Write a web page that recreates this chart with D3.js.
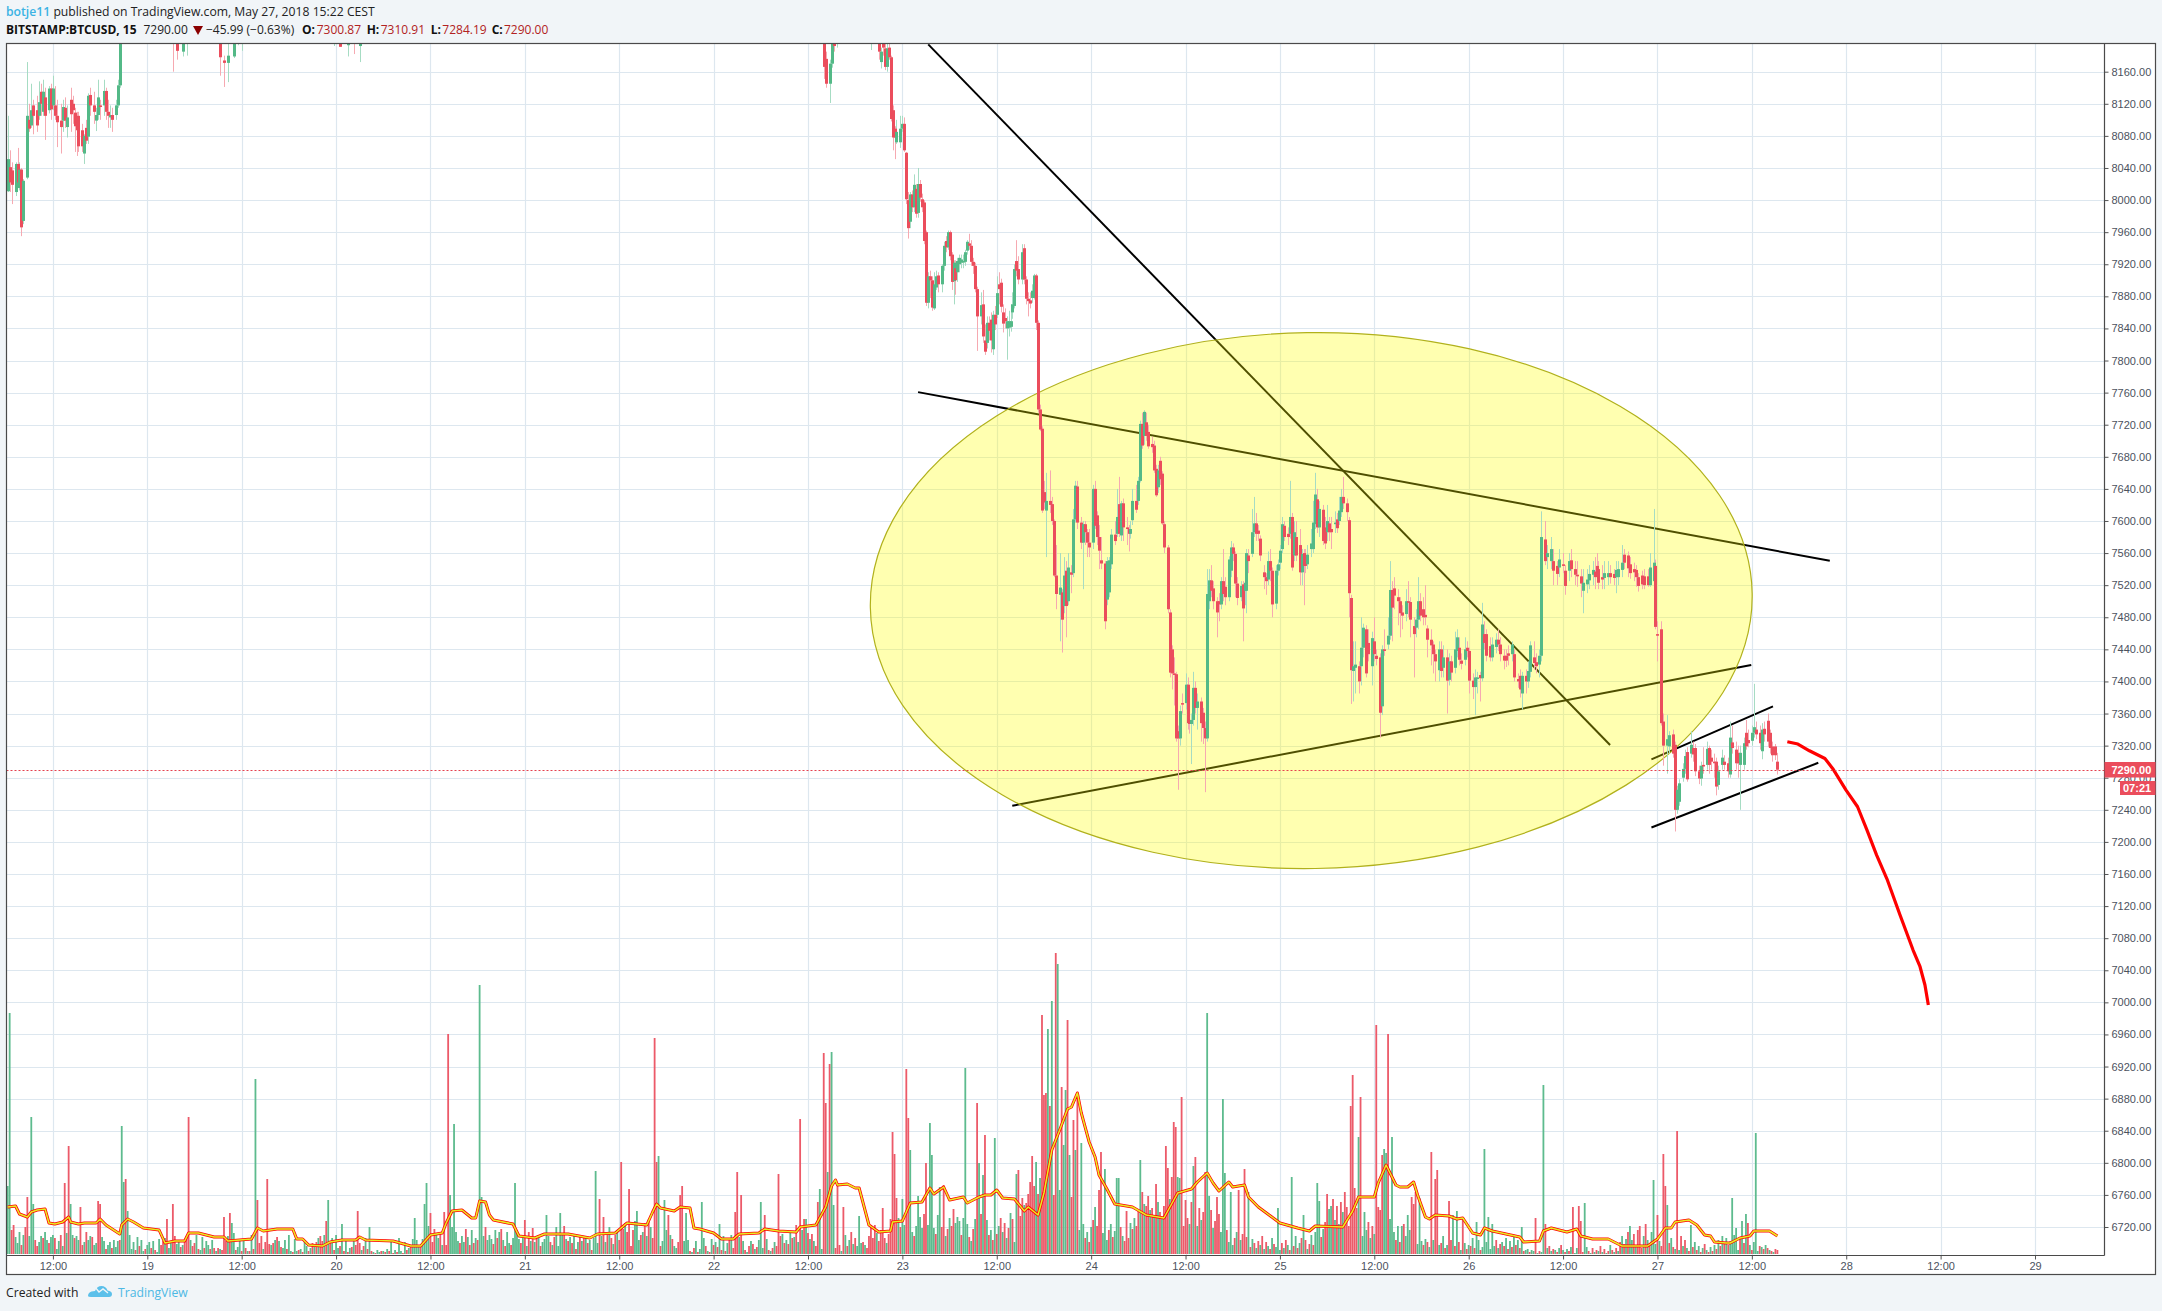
<!DOCTYPE html>
<html><head><meta charset="utf-8"><script src="https://cdn.jsdelivr.net/npm/d3@7"></script>
<style>html,body{margin:0;padding:0;background:#f1f5f8}svg{display:block}</style></head><body><div id="chart"></div>
<script>
// Price candles: rows are [open, close, high, low]; each section covers a range of 15-minute bars
const candlesA=[[8011,8051,8105,8010],[8041,8022,8062,8010],[8037,8019,8047,7995],[8010,8045,8047,8005],[8045,8022,8065,8015],[8015,8038,8047,8012],[8038,7966,8040,7955],[7974,8024,8026,7970],[8028,8105,8172,8026],[8100,8089,8120,8085],[8093,8112,8145,8090],[8118,8105,8125,8082],[8112,8093,8130,8085],[8105,8122,8148,8100],[8135,8120,8145,8105],[8110,8135,8150,8105],[8128,8105,8140,8075],[8112,8139,8142,8108],[8139,8113,8145,8100],[8118,8139,8155,8112],[8118,8105,8142,8100],[8105,8097,8125,8066],[8099,8091,8120,8058],[8099,8116,8125,8085],[8115,8099,8128,8090],[8091,8103,8118,8078],[8125,8107,8140,8085],[8120,8112,8130,8095],[8109,8092,8115,8060],[8097,8087,8110,8055],[8105,8067,8110,8060],[8087,8067,8095,8060],[8058,8080,8082,8045],[8090,8074,8100,8070],[8079,8130,8133,8070],[8131,8118,8140,8105],[8118,8110,8135,8095],[8099,8106,8115,8086],[8106,8128,8150,8100],[8118,8116,8125,8100],[8118,8136,8150,8105],[8136,8110,8140,8100],[8110,8105,8125,8090],[8103,8106,8118,8090],[8106,8100,8115,8085],[8106,8118,8125,8100],[8118,8143,8150,8115],[8143,8200,8215,8140]];
const candlesPeek1=[[8210,8205,8215,8160],[8210,8186,8215,8175],[8185,8210,8220,8179],[8200,8210,8215,8180]];
const candlesPeek2=[[8205,8178,8210,8155],[8174,8171,8180,8141],[8171,8180,8200,8147],[8179,8195,8200,8177],[8197,8200,8210,8193],[8200,8210,8215,8186]];
const candlesPeek3=[[8200,8210,8215,8192],[8200,8191,8205,8191],[8193,8198,8215,8179],[8200,8196,8210,8182],[8192,8197,8200,8172]];
const candlesM1=[[8210,8166,8215,8151],[8176,8145,8185,8140],[8145,8170,8175,8121],[8170,8195,8200,8165],[8195,8192,8205,8185]];
const candlesPeek4=[[8200,8205,8210,8190]];
const candlesPeek5=[[8195,8205,8210,8187]];
const candlesM2=[[8195,8185,8205,8175],[8172,8185,8190,8164],[8195,8190,8200,8180],[8189,8166,8200,8162],[8166,8189,8200,8160],[8190,8178,8200,8175],[8178,8101,8180,8098],[8112,8078,8118,8062],[8089,8078,8092,8051],[8072,8085,8100,8070],[8072,8089,8105,8065],[8089,8095,8105,8085],[8095,8062,8103,8060],[8059,8001,8060,7995],[8000,7965,8010,7952],[7973,8007,8010,7965],[8007,7991,8012,7985],[7991,8019,8032,7985],[8014,7983,8020,7978],[7984,8020,8040,7978],[8020,8003,8025,7998],[8001,7991,8008,7985],[7997,7949,8000,7945],[7960,7872,7962,7868],[7872,7905,7910,7865],[7905,7900,7912,7878],[7900,7866,7905,7862],[7865,7895,7910,7863],[7891,7905,7912,7888],[7906,7895,7910,7885],[7895,7918,7920,7885],[7918,7943,7948,7912],[7949,7941,7955,7935],[7941,7960,7962,7938],[7960,7930,7962,7925],[7932,7898,7935,7888],[7899,7922,7925,7870],[7915,7900,7925,7882],[7910,7924,7928,7898],[7920,7928,7932,7910],[7922,7926,7932,7915],[7923,7924,7932,7915],[7923,7935,7938,7918],[7937,7948,7950,7932],[7946,7943,7958,7938],[7943,7923,7950,7918],[7923,7918,7928,7908],[7918,7889,7922,7885],[7889,7855,7892,7812],[7855,7869,7885,7845],[7870,7830,7888,7822],[7825,7811,7845,7807],[7822,7847,7855,7815],[7847,7837,7855,7825],[7851,7825,7860,7810],[7814,7857,7862,7807],[7857,7845,7868,7838],[7857,7884,7905,7853],[7895,7889,7910,7870],[7897,7867,7902,7860],[7860,7846,7870,7835],[7853,7849,7865,7840],[7840,7849,7855,7801],[7841,7849,7862,7830],[7842,7849,7870,7836],[7860,7870,7885,7852],[7868,7914,7920,7865],[7924,7912,7950,7905],[7914,7901,7930,7895],[7901,7935,7945,7895],[7940,7901,7945,7895],[7901,7877,7905,7870],[7877,7874,7885,7855],[7875,7871,7885,7865],[7878,7887,7895,7872],[7878,7906,7908,7876],[7906,7847,7908,7838],[7847,7739,7850,7735],[7739,7714,7745,7712]];
const candlesS1=[[7715,7613,7718,7610],[7636,7623,7650,7615],[7613,7625,7660,7555],[7625,7620,7663,7610],[7621,7600,7630,7595],[7600,7532,7602,7530],[7532,7509,7570,7490],[7508,7517,7560,7450],[7511,7477,7515,7436],[7494,7532,7555,7485],[7538,7494,7550,7455],[7500,7542,7560,7495],[7536,7533,7545,7510],[7535,7602,7615,7530],[7602,7644,7650,7598],[7643,7598,7650,7590],[7598,7573,7605,7565],[7573,7596,7600,7515],[7596,7586,7600,7570],[7586,7573,7590,7555],[7573,7567,7590,7555],[7573,7640,7645,7565],[7640,7594,7650,7590],[7607,7580,7612,7570],[7580,7563,7595,7540],[7551,7547,7580,7540],[7547,7475,7550,7465],[7502,7550,7555,7495],[7511,7551,7555,7505],[7546,7583,7590,7540],[7583,7575,7600,7570],[7584,7605,7640,7580],[7621,7584,7655,7580],[7582,7622,7625,7575],[7622,7592,7628,7575],[7592,7590,7605,7570],[7590,7584,7595,7562],[7584,7590,7600,7578],[7601,7625,7640,7595],[7625,7614,7645,7610],[7625,7650,7655,7620],[7650,7721,7725,7648]];
const candlesS2=[[7721,7694,7735,7690],[7706,7736,7738,7695],[7723,7706,7735,7700],[7711,7693,7720,7690],[7696,7692,7705,7685],[7694,7663,7700,7660],[7665,7632,7670,7630],[7642,7663,7670,7635],[7675,7652,7680,7645],[7659,7597,7662,7595],[7596,7567,7600,7560],[7567,7490,7570,7485],[7486,7411,7490,7405],[7440,7410,7445,7390],[7410,7408,7430,7370],[7409,7329,7412,7325],[7338,7329,7345,7265],[7329,7363,7370,7320],[7373,7372,7385,7360],[7373,7396,7410,7365],[7396,7348,7405,7340],[7352,7347,7365,7335],[7347,7352,7360,7297],[7352,7392,7412,7345],[7392,7367,7400,7360],[7367,7375,7385,7340],[7375,7348,7380,7325],[7361,7342,7367,7322],[7342,7329,7350,7262],[7329,7509,7540,7325]];
const candlesS3=[[7500,7526,7540,7490],[7526,7513,7545,7505],[7516,7500,7525,7490],[7500,7486,7505,7455],[7500,7496,7510,7475],[7496,7525,7530,7490],[7525,7509,7565,7500],[7518,7505,7530,7495],[7505,7552,7556,7500],[7538,7567,7575,7530],[7567,7559,7572,7550],[7559,7522,7562,7505],[7522,7504,7530,7495],[7505,7519,7525,7500],[7521,7491,7525,7450],[7513,7523,7535,7495],[7513,7560,7565,7485],[7557,7550,7565,7535],[7559,7586,7615,7555],[7586,7597,7630,7580],[7597,7584,7610,7575],[7588,7584,7595,7575],[7578,7557,7582,7550],[7536,7530,7545,7515],[7530,7525,7535,7508],[7527,7550,7562,7520],[7550,7538,7565,7525],[7538,7496,7542,7480],[7497,7538,7545,7490],[7538,7546,7552,7532],[7548,7563,7570,7540],[7565,7596,7605,7560],[7594,7580,7600,7575],[7584,7580,7592,7570],[7584,7605,7650,7578],[7605,7542,7610,7538],[7557,7586,7600,7550],[7580,7557,7600,7550],[7570,7536,7590,7520],[7536,7559,7565,7520],[7560,7544,7565,7495],[7555,7544,7565,7535],[7546,7558,7570,7540],[7565,7572,7590,7555],[7565,7598,7625,7560],[7596,7633,7660,7590],[7627,7592,7640,7585],[7592,7615,7625,7580],[7614,7575,7620,7570],[7592,7572,7605,7565],[7586,7600,7620,7575],[7597,7586,7605,7575],[7590,7586,7605,7565],[7596,7598,7612,7585],[7602,7591,7610,7585],[7600,7613,7630,7595],[7611,7630,7640,7605],[7630,7622,7655,7615],[7622,7611,7628,7600],[7601,7510,7605,7480],[7504,7414,7508,7372]];
const candlesS4=[[7413,7419,7450,7375],[7417,7421,7450,7385],[7419,7400,7425,7385],[7419,7442,7480,7395],[7442,7467,7472,7430],[7465,7410,7470,7405],[7448,7434,7465,7425],[7419,7454,7462,7395],[7450,7434,7480,7425],[7432,7428,7440,7420],[7430,7361,7435,7330],[7369,7440,7445,7358],[7440,7438,7465,7432],[7446,7457,7480,7440],[7457,7514,7550,7452]];
const candlesS5=[[7514,7492,7525,7450],[7516,7507,7530,7490],[7505,7500,7515,7470],[7500,7485,7505,7455],[7486,7482,7495,7465],[7484,7500,7515,7475],[7500,7498,7525,7480],[7499,7477,7505,7455],[7469,7459,7480,7405],[7467,7477,7490,7455],[7477,7500,7530,7465],[7500,7482,7510,7475],[7490,7480,7505,7470],[7483,7480,7520,7470],[7466,7452,7470,7430],[7452,7445,7465,7420],[7446,7434,7450,7410],[7434,7425,7440,7400],[7414,7440,7450,7400],[7440,7413,7450,7405],[7417,7430,7445,7405],[7430,7401,7440,7360],[7402,7425,7435,7395],[7425,7411,7432,7400],[7417,7440,7462,7410],[7438,7455,7465,7430],[7442,7427,7455,7420],[7426,7422,7435,7415],[7427,7440,7455,7420],[7442,7438,7450,7430],[7438,7401,7442,7385],[7401,7393,7410,7378],[7393,7405,7415,7358],[7403,7405,7412,7385],[7408,7404,7412,7375],[7404,7471,7498,7400]];
const candlesS6=[[7459,7448,7475,7440],[7459,7432,7465,7425],[7444,7430,7455,7425],[7430,7446,7455,7425],[7443,7452,7460,7435],[7452,7446,7465,7438],[7446,7434,7455,7425],[7432,7426,7440,7415],[7432,7426,7440,7418],[7435,7432,7445,7420],[7434,7446,7450,7425],[7434,7405,7440,7400],[7403,7400,7410,7392],[7407,7390,7415,7380],[7385,7407,7412,7365],[7407,7400,7415,7385],[7400,7413,7425,7392],[7412,7445,7450,7405],[7430,7423,7450,7415],[7424,7419,7435,7410],[7421,7432,7440,7405],[7432,7580,7612,7425]];
const candlesS7=[[7577,7550,7600,7545],[7555,7560,7570,7540],[7550,7565,7580,7540],[7550,7538,7565,7520],[7544,7534,7550,7520],[7542,7552,7565,7530],[7546,7544,7560,7535],[7538,7519,7545,7508],[7538,7550,7560,7525],[7551,7540,7565,7530],[7540,7533,7550,7520],[7533,7531,7550,7518],[7531,7522,7540,7505],[7513,7523,7540,7485],[7521,7527,7540,7510],[7526,7534,7545,7515],[7533,7539,7550,7520],[7537,7530,7555,7515]];
const candlesS8=[[7544,7536,7560,7525],[7540,7523,7550,7515],[7530,7527,7545,7515],[7529,7535,7550,7515],[7530,7535,7550,7520],[7535,7530,7545,7522],[7534,7529,7540,7520],[7530,7539,7550,7510],[7530,7540,7550,7520],[7539,7548,7570,7530],[7558,7548,7565,7540],[7557,7541,7562,7530],[7546,7535,7555,7528],[7540,7536,7548,7525],[7539,7530,7545,7518],[7530,7519,7535,7512],[7532,7521,7538,7515],[7531,7520,7540,7515],[7531,7520,7540,7518],[7520,7542,7560,7518],[7525,7548,7615,7520],[7544,7468,7552,7465],[7459,7457,7475,7425],[7465,7348,7475,7345],[7350,7320,7360,7295],[7320,7328,7358,7285],[7319,7333,7338,7310],[7334,7310,7340,7305],[7321,7240,7325,7213]];
const candlesS9=[[7240,7265,7270,7235],[7250,7273,7278,7245],[7280,7291,7298,7275],[7291,7307,7315,7285],[7312,7278,7318,7275],[7310,7321,7338,7305],[7317,7309,7325,7300],[7317,7288,7322,7282],[7288,7279,7295,7272],[7279,7295,7300,7270],[7296,7294,7318,7285],[7296,7316,7325,7290],[7317,7296,7320,7285],[7305,7300,7315,7290],[7300,7298,7310,7280],[7300,7269,7305,7258],[7271,7288,7295,7265],[7296,7305,7315,7290],[7300,7296,7308,7290],[7298,7288,7305,7280],[7284,7330,7350,7280],[7324,7317,7345,7310],[7315,7298,7325,7290],[7311,7298,7320,7280],[7296,7311,7320,7240],[7296,7323,7330,7290],[7336,7319,7352,7315],[7327,7323,7340,7318],[7326,7336,7345,7320],[7336,7343,7397,7330],[7340,7334,7350,7328],[7336,7323,7345,7315],[7313,7340,7348,7303],[7341,7334,7350,7325],[7351,7325,7360,7318],[7336,7317,7340,7310],[7319,7308,7325,7300],[7319,7308,7322,7302],[7300,7290,7311,7284]];
const candleSections=[[0,57,candlesA],[84,91,candlesPeek1],[108,119,candlesPeek2],[166,179,candlesPeek3],[415,420,candlesM1],[422,422,candlesPeek4],[439,439,candlesPeek5],[443,525,candlesM2],[526,576,candlesS1],[577,610,candlesS2],[611,683,candlesS3],[684,703,candlesS4],[704,750,candlesS5],[751,780,candlesS6],[782,807,candlesS7],[808,848,candlesS8],[849,900,candlesS9]];

// Volume: one value per 15-minute bar; a negative sign marks a down bar
const volumeBase=[
-20,9,-24,-29,17,11,22,-9,19,-27,27,18,-28,25,-14,-8,12,18,-16,22,
14,-11,17,19,-16,5,13,-19,8,-23,21,-25,13,19,-16,18,14,-5,-9,12,
-22,14,18,-17,9,11,-15,-21,17,13,-5,9,12,-6,14,7,13,-14,9,-25,
18,-6,19,5,12,-4,17,-8,14,3,-5,9,12,-6,13,-4,2,15,-9,-13,
16,-8,6,11,-14,-18,10,12,-7,9,-12,-16,20,14,-8,-11,19,-5,4,17,
-6,13,9,-5,14,-6,3,-6,5,-4,19,-13,18,-6,-18,21,-4,7,15,-3,
14,-6,3,-3,19,-5,-6,9,-11,-18,5,-12,17,-10,9,-11,14,-17,13,-7,
6,14,-5,19,3,-2,15,3,-4,5,-2,14,8,-3,6,-11,7,-12,16,-18,
-13,19,-5,7,-11,16,-4,19,6,-8,4,-3,15,-2,6,-7,13,-9,15,-11,
4,-8,16,-5,11,-3,2,-1,4,2,-3,3,-2,5,-3,12,-1,4,-2,16,
3,-1,12,-4,6,-8,15,-11,14,7,-9,15,6,-14,28,18,-12,-25,19,16,
-20,9,14,-9,30,-15,27,-33,22,13,-11,18,12,-25,17,-9,24,-11,16,-14,
12,-8,18,-27,14,19,15,-10,24,-16,22,-25,14,-8,22,11,-9,16,-13,24,
15,-11,18,-5,8,-22,13,-26,12,-16,19,-8,12,15,-21,18,-12,9,-17,27,
8,-14,21,-28,15,-13,17,-11,19,-5,12,-19,13,-16,18,-11,14,-4,16,-8,
11,-9,18,-6,12,-21,27,-16,10,-19,24,-14,29,-25,31,-22,14,-8,-24,33,
-28,14,-19,22,-31,18,-35,27,-16,22,-19,26,-8,13,-18,24,-7,19,-15,8,
6,-12,9,-5,13,-8,14,-3,2,-6,13,-2,5,-4,16,-8,3,-2,15,-9,
12,-7,13,-4,18,-3,11,-15,19,-6,11,-5,17,-9,13,-4,2,-8,13,-10,
5,-7,14,-9,6,-11,15,-4,3,-6,12,-8,15,-18,20,-11,14,-10,22,-16,
17,-29,12,-19,24,-35,18,-21,15,-20,13,-8,16,-11,5,-14,19,-22,9,-13,
11,-6,14,-9,3,-13,19,-8,14,-22,10,-16,8,-5,11,-12,9,-6,-18,-27,
-16,-29,21,-13,-24,28,-16,11,-20,-35,19,-25,-30,36,-27,-42,29,-24,15,-35,
22,-18,28,-25,37,26,-40,32,29,-23,34,26,-20,39,31,-27,16,18,-25,36,
-28,-45,31,-24,33,-19,36,-22,30,-17,13,-25,35,-28,21,-40,30,-26,34,-19,
24,-14,11,-20,28,-36,22,-31,16,-26,41,-35,12,-30,22,-38,-56,49,-42,-60,
-72,85,-68,92,-60,76,-48,88,-66,80,-58,45,-72,52,-95,64,-70,44,-56,62,
-48,40,-28,35,-18,24,-38,30,-16,22,-12,27,-34,19,-28,15,-26,21,-33,14,
-24,30,-17,23,-12,20,-27,18,-13,22,-16,31,-25,36,-28,-45,-56,-62,50,-48,
-58,44,-66,38,-70,52,-42,36,-48,30,-34,55,-42,60,-38,50,-46,32,-28,44,
-36,30,-52,40,-38,28,-46,34,-42,24,-37,30,-44,26,-33,18,-40,22,-28,14,
-24,12,-18,9,-16,22,-10,14,-20,8,-17,12,-7,15,-11,6,-13,9,-18,5,
-12,8,-5,16,-10,7,-13,4,-11,6,-14,9,-4,12,-8,18,-6,11,-16,7,
-14,5,-10,19,-9,22,-13,8,-17,25,-32,-60,45,-38,-55,34,-48,30,-52,42,
-62,40,-28,50,-34,26,-46,30,-21,18,-38,24,-32,16,-28,20,-36,14,-44,22,
-30,18,-25,35,-16,22,-14,28,-12,20,-30,18,-11,24,-16,14,-26,10,-18,13,
-9,15,-12,7,-16,14,8,-6,9,-11,18,-6,9,12,-14,5,-8,10,-12,4,
-7,11,-5,9,-8,16,-6,10,14,-4,7,-3,12,-9,5,-13,8,-14,6,-10,
12,-8,16,-5,13,-7,18,-9,14,-6,11,-3,4,5,-2,4,3,-2,1,-3,
2,-5,1,6,-8,3,-5,4,-2,6,-9,4,-2,5,-3,7,-2,1,6,-3,
5,-2,4,7,-3,1,-6,2,-4,3,-8,2,-5,1,-3,9,-4,2,-6,3,
-12,18,-10,15,-22,28,14,-20,9,-24,12,-6,18,-30,14,-8,22,-16,10,-5,
13,-8,5,-9,3,-11,16,-7,5,-12,4,-18,8,-14,6,-3,10,-7,12,-4,
8,-2,6,-10,4,-2,7,-3,9,-5,14,-8,18,-11,16,-9,13,-6,19,-10,
4,-15,8,-11,5,-7,9,-4,12,-6,3,-8,7,-5,9,-6,4,-3,2,-5,
-4,3,-4,2,-5,-6,-3];
const spikeBars=[0,1,10,12,13,29,31,32,37,46,47,58,59,60,61,81,84,92,110,113,114,126,127,132,162,163,170,178,184,207,212,213,215,222,224,225,227,240,241,258,263,274,281,299,301,303,312,316,320,329,330,331,334,336,342,343,345,353,362,370,371,373,383,385,392,403,406,412,413,415,416,417,418,419,420,422,425,433,445,450,451,452,455,457,458,459,463,467,469,470,474,476,483,487,493,494,496,497,502,513,514,518,521,526,527,528,529,530,531,532,533,534,536,537,538,539,540,541,542,543,544,546,553,555,556,558,564,565,569,576,582,589,590,592,593,594,595,596,597,599,603,604,609,610,611,615,618,619,622,626,629,631,646,653,659,666,667,673,681,683,684,685,687,688,690,696,697,699,700,701,702,704,709,712,714,715,716,718,724,726,727,733,735,737,740,747,751,753,755,770,777,781,782,796,799,800,802,830,837,839,842,843,844,849,856,877,879,882,884,885,889];
const spikeVolumes=[68,241,-57,137,50,-71,-108,50,-47,-53,-50,128,72,-75,43,-35,-50,-137,-37,-41,31,175,-54,-75,-33,54,30,-43,27,36,50,71,-41,-42,-220,59,130,269,57,71,-34,39,41,83,-55,-37,-92,-65,43,-216,-92,98,54,-39,-59,-68,41,52,30,-42,-82,-59,52,-39,-80,-135,35,-52,65,-201,-151,82,-190,202,49,-71,-47,38,-46,-122,-100,-56,55,-185,-136,104,58,-91,131,99,67,-69,37,186,-151,91,79,-119,116,80,-84,-51,-98,-239,-159,-161,225,-148,253,-59,-301,290,-167,109,164,-234,99,-57,-134,104,-161,111,47,-64,-102,85,76,76,-43,94,-46,-108,-86,-77,-132,-127,77,76,-157,-54,88,-97,-82,241,58,-57,155,81,62,-64,-85,62,46,77,39,71,53,48,-47,-148,-179,-66,117,-157,42,-229,-47,-99,105,101,-220,117,28,39,-57,-50,-62,56,-102,-75,-84,-53,39,43,-36,32,105,37,30,27,-36,169,-30,-47,-48,-33,51,-28,74,-39,-100,-68,49,-123,29,56,26,33,40,-31,121];
// Volume moving average (bar number, value)
const maBars=[0,4,6,10,12,15,19,21,24,28,31,32,36,39,45,47,50,57,58,61,64,69,77,80,85,90,92,97,105,110,112,124,127,130,137,145,147,150,153,160,164,170,177,179,182,196,205,210,215,221,223,226,231,236,238,240,243,245,247,257,260,268,273,285,296,300,309,315,325,328,330,332,339,342,347,349,352,359,363,369,372,382,385,392,401,403,411,416,419,421,422,427,431,433,438,443,449,450,455,459,465,469,471,476,479,486,488,494,497,500,503,506,512,517,519,524,527,531,535,539,541,544,546,550,553,555,559,563,572,579,588,595,602,605,610,613,616,621,623,629,631,636,647,656,662,665,679,684,687,695,697,701,706,708,712,715,717,721,723,726,733,737,740,745,749,751,755,769,771,779,781,785,793,798,800,806,814,821,834,839,843,846,848,855,859,863,866,868,874,876,881,886,888,896,900];
const maValues=[47,48,40,37,42,44,45,31,30,32,37,32,30,31,31,35,29,20,29,35,32,26,24,11,13,13,21,21,17,17,13,15,26,23,25,25,15,15,9,8,12,14,14,17,14,13,8,8,19,21,31,43,44,36,36,53,52,39,34,30,18,16,20,20,16,20,21,31,29,42,50,46,43,47,46,26,25,21,15,15,20,21,25,23,22,27,29,47,68,74,69,70,66,66,29,22,23,32,33,51,52,66,60,67,54,57,51,57,59,59,64,56,55,43,47,39,61,104,124,145,147,161,141,112,97,79,65,50,47,39,36,61,65,72,81,71,63,72,67,69,57,47,31,26,23,28,27,43,57,57,71,89,69,67,67,72,59,37,35,39,38,35,36,21,19,26,23,17,12,13,23,26,22,25,18,15,15,8,8,15,26,26,32,34,29,19,18,12,11,11,16,18,23,23,18];
// Axes
const priceTicks=d3.range(6720,8161,40);
const timeTicks=[["2018-05-18T12:00Z","12:00"],["2018-05-19T00:00Z","19"],["2018-05-19T12:00Z","12:00"],["2018-05-20T00:00Z","20"],["2018-05-20T12:00Z","12:00"],["2018-05-21T00:00Z","21"],["2018-05-21T12:00Z","12:00"],["2018-05-22T00:00Z","22"],["2018-05-22T12:00Z","12:00"],["2018-05-23T00:00Z","23"],["2018-05-23T12:00Z","12:00"],["2018-05-24T00:00Z","24"],["2018-05-24T12:00Z","12:00"],["2018-05-25T00:00Z","25"],["2018-05-25T12:00Z","12:00"],["2018-05-26T00:00Z","26"],["2018-05-26T12:00Z","12:00"],["2018-05-27T00:00Z","27"],["2018-05-27T12:00Z","12:00"],["2018-05-28T00:00Z","28"],["2018-05-28T12:00Z","12:00"],["2018-05-29T00:00Z","29"]];
const lastPrice=7290;
// Drawings: endpoints as [days since 19 May, price]
const trendDown=[[4.137,8194],[7.749,7320.7]];
const trendUpperWedge=[[4.083,7760.6],[8.913,7550.4]];
const trendLowerWedge=[[4.582,7245],[8.497,7420.4]];
const channelTop=[[7.968,7302.9],[8.612,7369]];
const channelBottom=[[7.968,7218],[8.852,7298.6]];
const forecastPath=[[8.688,7324.8],[8.744,7322],[8.805,7313.6],[8.887,7304],[8.928,7291.6],[8.999,7264.6],[9.06,7243.8],[9.11,7214.8],[9.161,7183.6],[9.216,7153.7],[9.285,7108.8],[9.354,7065.2],[9.391,7044.4],[9.417,7021.6],[9.435,6996.7]];
const ellipseCenter=[6.166,7500.8], ellipseRadii=[2.336,334], ellipseTilt=-0.9;

const W=2162,H=1311, L=6.5,T=43.5,R=2104.5,B=1255.5,OR=2155.5,OB=1274.5;
const day0=Date.UTC(2018,4,19), DAY=864e5, bar0=Date.UTC(2018,4,18,6,15), BAR=9e5;
const x=d3.scaleUtc().domain([new Date(day0),new Date(Date.UTC(2018,4,29))]).range([147.3,2035]);
const y=d3.scaleLinear().domain([6720,8160]).range([1227,71.7]);
const vy=d3.scaleLinear().domain([0,301]).range([1254,953]);
const xBar=i=>x(new Date(bar0+i*BAR));
const xDay=d=>x(new Date(day0+d*DAY));
const lineD=d3.line().x(d=>xDay(d[0])).y(d=>y(d[1]));

const svg=d3.select("#chart").append("svg").attr("width",W).attr("height",H).style("font-family","'Liberation Sans',Arial,sans-serif");
svg.append("rect").attr("width",W).attr("height",H).attr("fill","#f1f5f8");
svg.append("rect").attr("x",L).attr("y",T).attr("width",OR-L).attr("height",OB-T).attr("fill","#fff");
svg.append("defs").append("clipPath").attr("id","pane").append("rect").attr("x",L).attr("y",T).attr("width",R-L).attr("height",B-T);
const pane=svg.append("g").attr("clip-path","url(#pane)");
const gridCol="#dde7ef";
pane.append("g").selectAll("line").data(priceTicks).join("line").attr("x1",L).attr("x2",R).attr("y1",d=>Math.round(y(d))+.5).attr("y2",d=>Math.round(y(d))+.5).attr("stroke",gridCol).attr("stroke-width",1.2);
pane.append("g").selectAll("line").data(timeTicks).join("line").attr("y1",T).attr("y2",B).attr("x1",d=>Math.round(x(new Date(d[0])))+.5).attr("x2",d=>Math.round(x(new Date(d[0])))+.5).attr("stroke",gridCol).attr("stroke-width",1.2);

// volume
const volume=volumeBase.slice(0,901);
spikeBars.forEach((b,i)=>{volume[b]=spikeVolumes[i];});
pane.append("g").selectAll("rect").data(volume).join("rect")
 .attr("x",(d,i)=>xBar(i)-.9).attr("width",1.8).attr("y",d=>vy(Math.abs(d))).attr("height",d=>vy(0)-vy(Math.abs(d)))
 .attr("fill",d=>d<0?"#ec5a69":"#5dbb8e");
const maLine=d3.line().x(d=>xBar(d[0])).y(d=>vy(d[1]));
const maPts=maBars.map((b,i)=>[b,maValues[i]]);
pane.append("path").attr("d",maLine(maPts)).attr("fill","none").attr("stroke","#ff0000").attr("stroke-width",3).attr("stroke-linejoin","round");
pane.append("path").attr("d",maLine(maPts)).attr("fill","none").attr("stroke","#e6ee22").attr("stroke-width",1.5).attr("stroke-linejoin","round");

// trend lines lie under the ellipse, candles over it
const blackLines=[trendDown,trendUpperWedge,trendLowerWedge,channelTop,channelBottom];
pane.append("g").selectAll("path").data(blackLines).join("path").attr("d",d=>lineD(d)).attr("fill","none").attr("stroke","#000").attr("stroke-width",2);
const cx=xDay(ellipseCenter[0]),cy=y(ellipseCenter[1]);
pane.append("ellipse").attr("cx",cx).attr("cy",cy).attr("rx",xDay(ellipseRadii[0])-xDay(0)).attr("ry",y(0)-y(ellipseRadii[1]))
 .attr("transform",`rotate(${ellipseTilt} ${cx} ${cy})`).attr("fill","rgba(255,255,0,.31)").attr("stroke","#b1b11c").attr("stroke-width",1.2);

// candles
const candles=[];
candleSections.forEach(([s,e,rows])=>rows.forEach((r,i)=>{
  const b=rows.length>1?Math.round(s+(e-s)*i/(rows.length-1)):s;
  candles.push({bar:b,o:r[0],c:r[1],h:r[2],l:r[3]});
}));
const up=d=>d.c>=d.o;
pane.append("g").selectAll("line").data(candles).join("line")
 .attr("x1",d=>Math.round(xBar(d.bar))+.5).attr("x2",d=>Math.round(xBar(d.bar))+.5)
 .attr("y1",d=>y(d.h)).attr("y2",d=>y(d.l)).attr("stroke",d=>up(d)?"#a6dcc3":"#f6a9b1");
pane.append("g").selectAll("rect").data(candles).join("rect")
 .attr("x",d=>Math.round(xBar(d.bar))-1).attr("width",3)
 .attr("y",d=>y(Math.max(d.o,d.c))).attr("height",d=>Math.max(1.5,Math.abs(y(d.o)-y(d.c))))
 .attr("fill",d=>up(d)?"#53b987":"#eb4d5c");

pane.append("path").attr("d",lineD(forecastPath)).attr("fill","none").attr("stroke","#ff0000").attr("stroke-width",3.2).attr("stroke-linejoin","round");
pane.append("line").attr("x1",L).attr("x2",R).attr("y1",Math.round(y(lastPrice))+.5).attr("y2",Math.round(y(lastPrice))+.5).attr("stroke","#e5414f").attr("stroke-dasharray","2 2");

// axes
const yAxis=d3.axisRight(y).tickValues(priceTicks).tickFormat(d=>d.toFixed(2)).tickSize(4).tickPadding(3);
const yg=svg.append("g").attr("transform",`translate(${R},0)`).call(yAxis);
yg.select(".domain").remove();
yg.selectAll(".tick line").attr("stroke","#555");
yg.selectAll("text").attr("fill","#4c525e").style("font-size","11px");
const xAxis=d3.axisBottom(x).tickValues(timeTicks.map(d=>new Date(d[0]))).tickFormat((d,i)=>timeTicks[i][1]).tickSize(4).tickPadding(3);
const xg=svg.append("g").attr("transform",`translate(0,${B})`).call(xAxis);
xg.select(".domain").remove();
xg.selectAll(".tick line").attr("stroke","#555");
xg.selectAll("text").attr("fill","#4c525e").style("font-size","11px");
// frame
const frame="#4a4a4a";
svg.append("rect").attr("x",L).attr("y",T).attr("width",OR-L).attr("height",OB-T).attr("fill","none").attr("stroke",frame).attr("stroke-width",1.2);
svg.append("line").attr("x1",L).attr("x2",R).attr("y1",B).attr("y2",B).attr("stroke",frame).attr("stroke-width",1.2);
svg.append("line").attr("x1",R).attr("x2",R).attr("y1",T).attr("y2",B).attr("stroke",frame).attr("stroke-width",1.2);
// last price labels
svg.append("rect").attr("x",R).attr("y",762).attr("width",OR-R).attr("height",15.5).attr("fill","#eb4d5c");
svg.append("text").attr("x",2111.5).attr("y",773.5).attr("fill","#fff").attr("font-weight","bold").attr("font-size",11).text(lastPrice.toFixed(2));
svg.append("rect").attr("x",2120).attr("y",781).attr("width",OR-2120).attr("height",14).attr("fill","#eb4d5c");
svg.append("text").attr("x",2123).attr("y",792).attr("fill","#fff").attr("font-weight","bold").attr("font-size",11).text("07:21");

// header
const hf="'Open Sans',sans-serif";
const t1=svg.append("text").attr("x",6).attr("y",16).attr("font-family",hf).attr("font-size",12.2).attr("fill","#222");
t1.append("tspan").attr("fill","#3bb3e4").attr("font-weight","600").text("botje11");
t1.append("tspan").text(" published on TradingView.com, May 27, 2018 15:22 CEST");
const hdr=(xp,txt,col,w)=>svg.append("text").attr("x",xp).attr("y",33.5).attr("font-family",hf).attr("font-size",12).attr("fill",col).attr("font-weight",w||400).text(txt);
hdr(6,"BITSTAMP:BTCUSD, 15","#111",700);
hdr(143.5,"7290.00","#222");
svg.append("path").attr("d",d3.line()([[193,26],[203,26],[198,35]])+"Z").attr("fill","#8b0000");
hdr(206,"\u221245.99 (\u22120.63%)","#222");
hdr(302,"O:","#111",700); hdr(316.7,"7300.87","#b22222");
hdr(366.7,"H:","#111",700); hdr(380.7,"7310.91","#b22222");
hdr(430.7,"L:","#111",700); hdr(442.3,"7284.19","#b22222");
hdr(491.7,"C:","#111",700); hdr(504,"7290.00","#b22222");
// footer
svg.append("text").attr("x",6).attr("y",1297).attr("font-family",hf).attr("font-size",12.2).attr("fill","#222").text("Created with");
svg.append("path").attr("d","M88 1296 q0 -3.500 3.500 -4.500 l3.500 -0.500 q2 -5 6.500 -5 q4.500 0 6 4.500 q4.500 0.500 4.500 3.500 q0 3 -3 3 h-18 q-3 0 -3 -1 z").attr("fill","#5cc0ea");
svg.append("path").attr("d","M89 1291 l6 -4 l4 5 l4 -3 l5 4").attr("fill","none").attr("stroke","#f1f5f8").attr("stroke-width",1.4);
svg.append("text").attr("x",118).attr("y",1297).attr("font-family",hf).attr("font-size",12.2).attr("fill","#4db8e4").text("TradingView");
</script></body></html>
